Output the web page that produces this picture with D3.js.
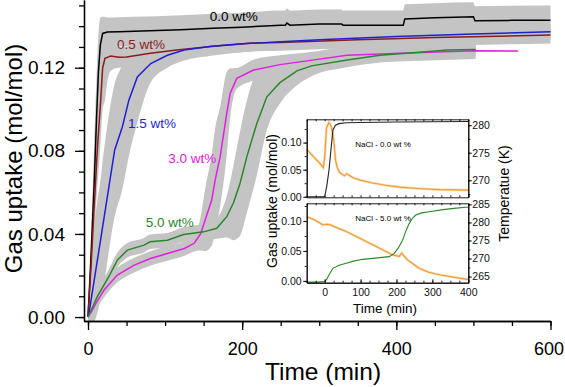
<!DOCTYPE html>
<html>
<head>
<meta charset="utf-8">
<script src="https://d3js.org/d3.v7.min.js"></script>
<style>
  body { margin: 0; background: #fff; }
  svg { display: block; }
  text { font-family: "Liberation Sans", Arial, sans-serif; }
</style>
</head>
<body>
<div id="chart"></div>
<script>
// Main plot: time (min), gas uptake (mol/mol), spread of repeated runs (mol/mol)
var t00 = [0, 4, 8, 11, 13.5, 16, 19, 25, 40, 60, 120, 162, 200, 250, 256, 258, 262, 300, 329, 331, 409, 411, 450, 500, 502, 550, 600];
var u00 = [0, 0.03, 0.064, 0.095, 0.118, 0.131, 0.1365, 0.1372, 0.1373, 0.1375, 0.1383, 0.139, 0.1395, 0.1405, 0.1405, 0.1415, 0.1405, 0.141, 0.141, 0.1405, 0.1405, 0.1435, 0.144, 0.1445, 0.1426, 0.1428, 0.1429];
var e00 = [0, 0.01, 0.02, 0.02, 0.018, 0.013, 0.008, 0.007, 0.007, 0.007, 0.007, 0.007, 0.007, 0.007, 0.007, 0.007, 0.007, 0.007, 0.007, 0.007, 0.007, 0.007, 0.007, 0.007, 0.007, 0.007, 0.007];

var t05 = [0, 4, 8, 12, 16.4, 19, 22, 25, 29.5, 40, 50, 81, 115, 160, 210, 250, 350, 450, 600];
var u05 = [0, 0.025, 0.053, 0.08, 0.104, 0.12, 0.1245, 0.125, 0.1256, 0.125, 0.1252, 0.127, 0.1285, 0.1302, 0.1318, 0.1322, 0.1335, 0.1345, 0.1357];
var e05 = [0, 0.006, 0.012, 0.018, 0.02, 0.02, 0.02, 0.012, 0.007, 0.005, 0.005, 0.005, 0.0045, 0.004, 0.004, 0.004, 0.004, 0.004, 0.004];

var t15 = [0, 1.3, 17.7, 34.6, 44.6, 53, 64, 81.4, 103, 124.7, 160, 200, 250, 300, 400, 500, 600];
var u15 = [0, 0.0019, 0.0404, 0.0804, 0.0916, 0.1044, 0.1156, 0.122, 0.126, 0.1285, 0.1303, 0.1315, 0.1325, 0.1335, 0.135, 0.1362, 0.1373];
var e15 = [0, 0.008, 0.03, 0.032, 0.03, 0.027, 0.022, 0.009, 0.006, 0.005, 0.0045, 0.004, 0.004, 0.004, 0.004, 0.004, 0.004];

var t30 = [0, 5, 10, 20.8, 38, 60, 81, 103, 125, 137.7, 146, 152, 160.5, 165, 171.4, 180, 184.4, 193, 214.7, 249, 284, 336, 422, 503, 558];
var u30 = [0, 0.003, 0.0065, 0.013, 0.0202, 0.025, 0.0282, 0.0306, 0.033, 0.0355, 0.04, 0.0467, 0.0563, 0.066, 0.0771, 0.098, 0.1076, 0.1149, 0.1189, 0.1215, 0.1233, 0.126, 0.1272, 0.1282, 0.128];
var e30 = [0, 0.002, 0.003, 0.0035, 0.0035, 0.0035, 0.0035, 0.0035, 0.0035, 0.004, 0.008, 0.015, 0.022, 0.025, 0.024, 0.02, 0.012, 0.005, 0.005, 0.0045, 0.004, 0.004, 0.004, 0.004, null];

var t50 = [0, 5, 12, 27, 38, 51, 72.7, 80.5, 103, 124, 150, 167, 180, 188.7, 197, 206, 219, 232, 249, 271, 290, 336, 379, 422, 466, 503];
var u50 = [0, 0.004, 0.0098, 0.0194, 0.0274, 0.0322, 0.0346, 0.0362, 0.037, 0.0397, 0.041, 0.0427, 0.0483, 0.055, 0.064, 0.0771, 0.0932, 0.106, 0.1128, 0.1185, 0.1209, 0.1237, 0.126, 0.1272, 0.1285, 0.1288];
var e50 = [0, 0.002, 0.003, 0.0035, 0.0035, 0.0035, 0.0035, 0.0035, 0.0035, 0.0035, 0.004, 0.005, 0.01, 0.018, 0.025, 0.027, 0.025, 0.016, 0.01, 0.007, 0.005, 0.0035, 0.0035, 0.0035, 0.0035, 0.003];

var seriesLabels = ["0.0 wt%", "0.5 wt%", "1.5 wt%", "3.0 wt%", "5.0 wt%"];
var xTicks = [0, 200, 400, 600];
var yTicks = [0, 0.04, 0.08, 0.12];

// Inset: NaCl 0.0 wt% (top) and 5.0 wt% (bottom), uptake and temperature (K)
var inTimeA = [-50, -30, -10, 0, 6, 12, 18, 23, 30, 40, 60, 100, 200, 300, 400];
var inUptakeA = [0, 0, 0, 0, 0.02, 0.049, 0.09, 0.1235, 0.132, 0.135, 0.1365, 0.137, 0.138, 0.1385, 0.139];
var inTempTimeA = [-50, -30, -15, -4, 0, 5, 12, 18, 25, 30, 35, 42, 55, 62, 66, 78, 100, 134, 170, 208, 260, 319, 393, 400];
var inTempA = [275.6, 274.2, 273.2, 272.3, 274, 279.5, 280.5, 279.8, 277.5, 273.8, 272.3, 271.4, 270.8, 271.2, 271.0, 270.5, 270.0, 269.5, 269.1, 268.75, 268.5, 268.3, 268.2, 268.2];

var inTimeB = [-50, -20, 0, 4.6, 12, 23, 40, 60, 80, 106, 140, 180, 194, 205, 217, 226, 235.6, 245, 254, 270, 291, 330, 360, 393, 400];
var inUptakeB = [-0.002, -0.002, -0.001, 0.0017, 0.01, 0.021, 0.026, 0.0295, 0.033, 0.036, 0.038, 0.0405, 0.046, 0.055, 0.068, 0.083, 0.096, 0.105, 0.11, 0.1135, 0.1155, 0.119, 0.121, 0.1228, 0.123];
var inTempTimeB = [-50, -30, -4.6, 5, 14, 30, 60, 106, 152, 189, 208, 212, 215, 218, 222, 231, 263, 290, 319, 360, 393, 400];
var inTempB = [281.6, 280.8, 279.3, 279.5, 279.4, 278.7, 277.5, 275.2, 272.9, 271.0, 270.6, 271.2, 271.5, 271.0, 270.6, 269.6, 267.3, 266.2, 265.5, 264.8, 264.3, 264.2];

var inLeftTicks = [0, 0.05, 0.1];
var inTempTicksA = [270, 275, 280];
var inTempTicksB = [265, 270, 275, 280, 285];
var inTimeTicks = [0, 100, 200, 300, 400];

function init() {
  var w = 565;
  var h = 387;

  var svg = d3.select("#chart")
    .append("svg")
    .attr("width", w)
    .attr("height", h);

  var x = d3.scaleLinear().domain([-5.2, 600]).range([84, 550.5]);
  var y = d3.scaleLinear().domain([-0.0019, 0.1526]).range([321, 0]);

  svg.append("clipPath").attr("id", "plotclip")
    .append("rect")
    .attr("x", 84).attr("y", 0)
    .attr("width", 467).attr("height", 321);

  var series = [
    { t: t00, u: u00, e: e00, color: "#000000", label: seriesLabels[0], lt: 158, lu: 0.1425 },
    { t: t05, u: u05, e: e05, color: "#8b1c1c", label: seriesLabels[1], lt: 37.6, lu: 0.129 },
    { t: t15, u: u15, e: e15, color: "#1f1fd6", label: seriesLabels[2], lt: 52, lu: 0.091 },
    { t: t30, u: u30, e: e30, color: "#e020e0", label: seriesLabels[3], lt: 104, lu: 0.0741 },
    { t: t50, u: u50, e: e50, color: "#2a862a", label: seriesLabels[4], lt: 75, lu: 0.0435 }
  ];

  var band = d3.area()
    .defined(function (d) { return d[2] != null; })
    .curve(d3.curveMonotoneX)
    .x(function (d) { return x(d[0]); })
    .y0(function (d) { return y(d[1] - d[2]); })
    .y1(function (d) { return y(d[1] + d[2]); });

  var line = d3.line()
    .x(function (d) { return x(d[0]); })
    .y(function (d) { return y(d[1]); });

  var plot = svg.append("g").attr("clip-path", "url(#plotclip)");

  //grey spread first, then the curves on top
  plot.selectAll("path.band")
    .data(series)
    .enter()
    .append("path")
    .attr("class", "band")
    .attr("d", function (s) { return band(d3.zip(s.t, s.u, s.e)); })
    .attr("fill", "#c4c4c4");

  plot.selectAll("path.curve")
    .data(series)
    .enter()
    .append("path")
    .attr("class", "curve")
    .attr("d", function (s) { return line(d3.zip(s.t, s.u)); })
    .attr("fill", "none")
    .attr("stroke", function (s) { return s.color; })
    .attr("stroke-width", 1.5);

  svg.selectAll("text.lab")
    .data(series)
    .enter()
    .append("text")
    .attr("class", "lab")
    .attr("x", function (s) { return x(s.lt); })
    .attr("y", function (s) { return y(s.lu); })
    .attr("font-size", "13.5px")
    .attr("fill", function (s) { return s.color; })
    .text(function (s) { return s.label; });

  //Axes
  var xMinor = svg.append("g").attr("transform", "translate(0,321)")
    .call(d3.axisBottom(x).tickValues(d3.range(0, 601, 50)).tickSize(5).tickSizeOuter(0).tickFormat(""));
  var xMajor = svg.append("g").attr("transform", "translate(0,321)")
    .call(d3.axisBottom(x).tickValues(xTicks).tickSize(9).tickSizeOuter(0).tickPadding(12));
  var yMinor = svg.append("g").attr("transform", "translate(84,0)")
    .call(d3.axisLeft(y).tickValues(d3.range(0, 0.1505, 0.01)).tickSize(5).tickSizeOuter(0).tickFormat(""));
  var yMajor = svg.append("g").attr("transform", "translate(84,0)")
    .call(d3.axisLeft(y).tickValues(yTicks).tickSize(9).tickSizeOuter(0).tickPadding(10).tickFormat(d3.format(".2f")));

  [xMinor, xMajor, yMinor, yMajor].forEach(function (g) {
    g.selectAll("path, line").attr("stroke", "#000").attr("stroke-width", 1.3);
    g.selectAll("text").attr("font-size", "19px").attr("fill", "#000")
      .style("font-family", "'Liberation Sans', Arial, sans-serif");
  });
  xMajor.selectAll("text").attr("font-size", "18px");
  // last label sits against the right edge
  xMajor.selectAll("text").filter(function (d) { return d == 600; }).attr("dx", "-2");

  svg.append("text")
    .attr("x", 323).attr("y", 380)
    .attr("text-anchor", "middle")
    .attr("font-size", "24.5px")
    .text("Time (min)");

  svg.append("text")
    .attr("transform", "translate(22,158.5) rotate(-90)")
    .attr("text-anchor", "middle")
    .attr("font-size", "24px")
    .text("Gas uptake (mol/mol)");

  // ---- inset ----
  var ix = d3.scaleLinear().domain([-50, 400]).range([306.7, 468.3]);
  var panels = [
    { top: 119.3, bottom: 197.3, yd: [-0.001, 0.143], td: [266.9, 281.07], tt: inTempTicksA,
      ut: inTimeA, uv: inUptakeA, uc: "#222222", tt2: inTempTimeA, tv: inTempA, note: "NaCl - 0.0 wt %", nu: 0.092 },
    { top: 203.3, bottom: 282.7, yd: [-0.003, 0.1295], td: [263.3, 285.3], tt: inTempTicksB,
      ut: inTimeB, uv: inUptakeB, uc: "#2a862a", tt2: inTempTimeB, tv: inTempB, note: "NaCl - 5.0 wt %", nu: 0.1 }
  ];

  panels.forEach(function (p, i) {
    var iy = d3.scaleLinear().domain(p.yd).range([p.bottom, p.top]);
    var it = d3.scaleLinear().domain(p.td).range([p.bottom, p.top]);
    var g = svg.append("g");

    var tline = d3.line()
      .x(function (d) { return ix(d[0]); })
      .y(function (d) { return it(d[1]); });
    var uline = d3.line()
      .x(function (d) { return ix(d[0]); })
      .y(function (d) { return iy(d[1]); });

    g.append("path")
      .attr("d", tline(d3.zip(p.tt2, p.tv)))
      .attr("fill", "none").attr("stroke", "#fbdcae").attr("stroke-width", 2.6);
    g.append("path")
      .attr("d", tline(d3.zip(p.tt2, p.tv)))
      .attr("fill", "none").attr("stroke", "#f09a38").attr("stroke-width", 1.1);
    g.append("path")
      .attr("d", uline(d3.zip(p.ut, p.uv)))
      .attr("fill", "none").attr("stroke", p.uc).attr("stroke-width", 1.1);

    var axes = [];
    axes.push(g.append("g").attr("transform", "translate(306.7,0)")
      .call(d3.axisLeft(iy).tickValues(d3.range(0, p.yd[1], 0.025)).tickSize(2).tickSizeOuter(0).tickFormat("")));
    axes.push(g.append("g").attr("transform", "translate(306.7,0)")
      .call(d3.axisLeft(iy).tickValues(inLeftTicks).tickSize(3.5).tickSizeOuter(0).tickPadding(1.5).tickFormat(d3.format(".2f"))));
    axes.push(g.append("g").attr("transform", "translate(468.3,0)")
      .call(d3.axisRight(it).tickValues(d3.range(265, 286, 2.5).filter(function (v) { return v >= p.td[0] && v <= p.td[1]; }))
        .tickSize(2).tickSizeOuter(0).tickFormat("")));
    axes.push(g.append("g").attr("transform", "translate(468.3,0)")
      .call(d3.axisRight(it).tickValues(p.tt).tickSize(3.5).tickSizeOuter(0).tickPadding(0.5)));
    axes.push(g.append("g").attr("transform", "translate(0," + p.top + ")")
      .call(d3.axisBottom(ix).tickValues(d3.range(-50, 401, 25)).tickSize(2).tickSizeOuter(0).tickFormat("")));
    axes.push(g.append("g").attr("transform", "translate(0," + p.bottom + ")")
      .call(d3.axisTop(ix).tickValues(d3.range(-50, 401, 25)).tickSize(2).tickSizeOuter(0).tickFormat("")));
    if (i == 1) {
      axes.push(g.append("g").attr("transform", "translate(0," + p.bottom + ")")
        .call(d3.axisBottom(ix).tickValues(inTimeTicks).tickSize(-3.5).tickSizeOuter(0).tickPadding(6)));
    }
    axes.forEach(function (a) {
      a.selectAll("path, line").attr("stroke", "#000").attr("stroke-width", 0.9);
      a.selectAll("text").attr("font-size", "10.5px").attr("fill", "#111")
        .style("font-family", "'Liberation Sans', Arial, sans-serif");
    });

    g.append("text")
      .attr("x", ix(85)).attr("y", iy(p.nu))
      .attr("font-size", "8px")
      .text(p.note);
  });

  svg.append("text")
    .attr("x", 385).attr("y", 313)
    .attr("text-anchor", "middle")
    .attr("font-size", "13.5px")
    .text("Time (min)");

  svg.append("text")
    .attr("transform", "translate(276.5,201) rotate(-90)")
    .attr("text-anchor", "middle")
    .attr("font-size", "14px")
    .text("Gas uptake (mol/mol)");

  svg.append("text")
    .attr("transform", "translate(509,193.5) rotate(-90)")
    .attr("text-anchor", "middle")
    .attr("font-size", "14px")
    .text("Temperatue (K)");
}

window.onload = init;
</script>
</body>
</html>
